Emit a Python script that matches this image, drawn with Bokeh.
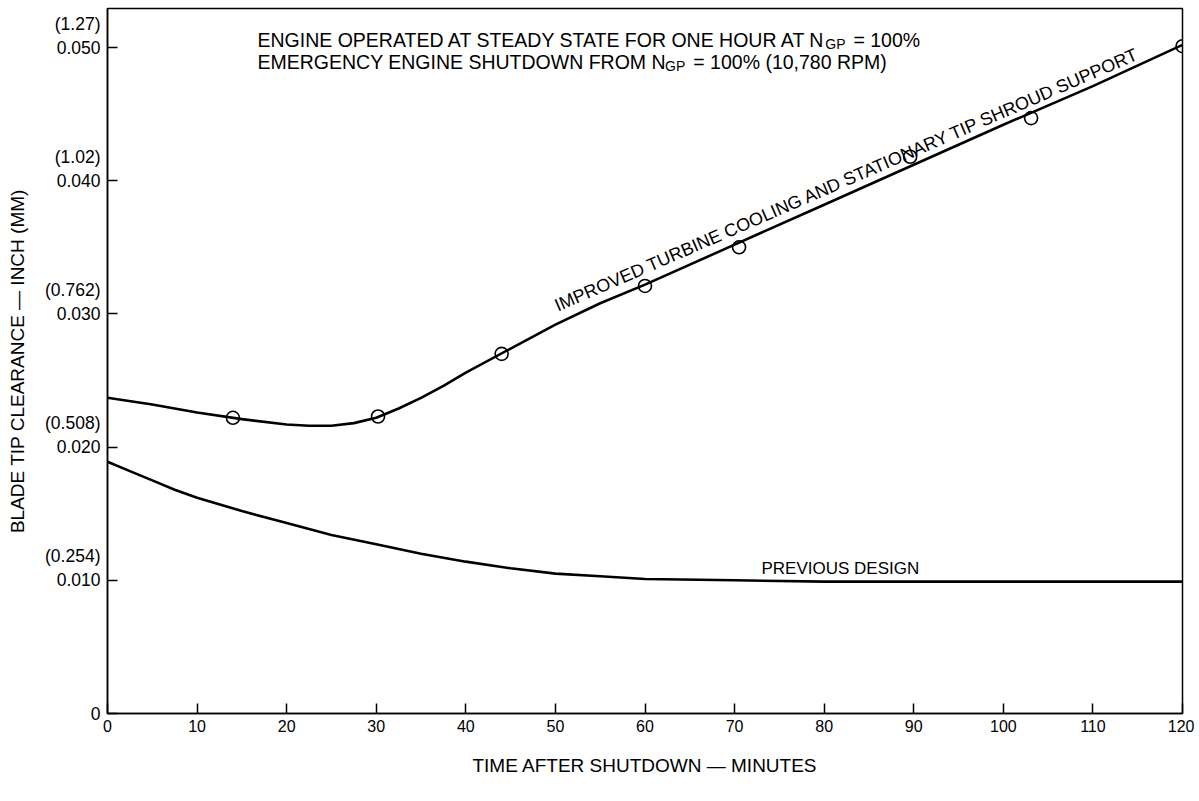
from bokeh.plotting import figure
from bokeh.models import Range1d, FixedTicker, Label
from bokeh.embed import file_html
from bokeh.resources import INLINE
from bokeh.core.properties import value

# ---------------- data ----------------
imp_time = [0, 5, 10, 15, 20, 22.5, 25, 27.5, 30, 32.5, 35, 37.5, 40, 45, 50, 55, 60,
            70, 80, 90, 100, 110, 120]
improved = [0.0237, 0.0232, 0.0226, 0.0221, 0.0217, 0.0216, 0.0216, 0.0218, 0.0222,
            0.0229, 0.0237, 0.0246, 0.0256, 0.0274, 0.0292, 0.0308, 0.0322,
            0.0352, 0.0382, 0.0412, 0.0442, 0.0471, 0.0502]
prev_time = [0, 2.5, 5, 7.5, 10, 15, 20, 25, 30, 35, 40, 45, 50, 55, 60,
             70, 80, 90, 100, 110, 120]
previous = [0.0189, 0.0182, 0.0175, 0.0168, 0.0162, 0.0152, 0.0143, 0.0134, 0.0127,
            0.0120, 0.0114, 0.0109, 0.0105, 0.0103, 0.0101,
            0.0100, 0.0099, 0.0099, 0.0099, 0.0099, 0.0099]
test_time = [14.0, 30.2, 44.0, 60.0, 70.5, 89.6, 103.1, 120.0]
test_clearance = [0.0222, 0.0223, 0.0270, 0.0321, 0.0350, 0.0418, 0.0447, 0.0501]

x_ticks = [0, 10, 20, 30, 40, 50, 60, 70, 80, 90, 100, 110, 120]
y_ticks = [0, 0.010, 0.020, 0.030, 0.040, 0.050]
y_tick_inch = ["0", "0.010", "0.020", "0.030", "0.040", "0.050"]
y_tick_mm = ["", "(0.254)", "(0.508)", "(0.762)", "(1.02)", "(1.27)"]

# ---------------- layout ----------------
FONT = "Liberation Sans"
XMAX = 120.0
YMAX = 0.05293
FW, FH = 1075, 705
LEFT, TOP = 107, 8  # frame position on the page

def xd(px):
    return (px - LEFT) * XMAX / FW

def yd(py):
    return (TOP + FH - py) * YMAX / FH

p = figure(width=1194, height=793, frame_width=FW, frame_height=FH,
           x_range=Range1d(0, XMAX), y_range=Range1d(0, YMAX),
           output_backend="svg", toolbar_location=None,
           min_border_left=LEFT, min_border_right=12, min_border_top=TOP, min_border_bottom=80)
p.background_fill_color = "white"
p.border_fill_color = "white"
p.outline_line_color = "black"
p.outline_line_width = 1.5
p.xgrid.visible = False
p.ygrid.visible = False

for ax in (p.xaxis[0], p.yaxis[0]):
    ax.axis_line_color = "black"
    ax.axis_line_width = 1.5
    ax.major_tick_in = 10
    ax.major_tick_out = 0
    ax.major_tick_line_width = 1.5
    ax.minor_tick_line_color = None
    ax.major_label_text_font = FONT
    ax.major_label_text_color = "black"
    ax.axis_label_text_font = FONT
    ax.axis_label_text_font_size = "19px"
    ax.axis_label_text_font_style = "normal"
    ax.axis_label_text_color = "black"

p.xaxis.ticker = FixedTicker(ticks=x_ticks)
p.xaxis.major_label_text_font_size = "16px"
p.xaxis.major_label_standoff = 6
p.xaxis.axis_label = "TIME AFTER SHUTDOWN \u2014 MINUTES"
p.xaxis.axis_label_standoff = 20

p.yaxis.ticker = FixedTicker(ticks=y_ticks)
p.yaxis.major_label_text_font_size = "17.5px"
p.yaxis.major_label_overrides = {
    t: (f"{mm}\n{inch}\n\u00a0" if mm else inch)
    for t, inch, mm in zip(y_ticks, y_tick_inch, y_tick_mm)
}
p.yaxis.major_label_standoff = 7
p.yaxis.axis_label = "BLADE TIP CLEARANCE \u2014 INCH (MM)"
p.yaxis.axis_label_standoff = 14

# ---------------- curves ----------------
p.line(prev_time, previous, line_color="black", line_width=2.6)
p.line(imp_time, improved, line_color="black", line_width=2.6)
p.scatter(test_time, test_clearance, marker="circle", size=13,
          fill_alpha=0, line_color="black", line_width=1.6)

# ---------------- annotations ----------------
W = {' ': 278, '.': 278, ',': 278, '%': 889, '=': 584, '(': 333, ')': 333,
     'A': 667, 'B': 667, 'C': 722, 'D': 722, 'E': 667, 'F': 611, 'G': 778, 'H': 722,
     'I': 278, 'M': 833, 'N': 722, 'O': 778, 'P': 667, 'R': 722, 'S': 667, 'T': 611,
     'U': 722, 'W': 944, 'Y': 667}

def tw(s, size, kern_em=0.0):
    return (sum(W.get(c, 556) for c in s) / 1000.0 - kern_em) * size

def note_line(pieces, px0, py_base):
    # pieces: (text, font size, baseline drop px, kerning correction em, gap after px)
    px = px0
    for s, size, drop, kern, gap in pieces:
        p.text(x=[xd(px)], y=[yd(py_base + drop)], text=[s],
               text_font=value(FONT), text_font_size=f"{size}px",
               text_color="black", text_align="left", text_baseline="alphabetic")
        px += tw(s, size, kern) + gap

note_line([("ENGINE OPERATED AT STEADY STATE FOR ONE HOUR AT N", 19.5, 0, 0.6, 3),
           ("GP", 14, 4, 0.0, 8), ("= 100%", 19.5, 0, 0.0, 0)], 257, 39)
note_line([("EMERGENCY ENGINE SHUTDOWN FROM N", 19.5, 0, 0.3, 5),
           ("GP", 14, 4, 0.0, 8), ("= 100% (10,780 RPM)", 19.5, 0, 0.0, 0)], 257, 61)

p.text(x=[xd(761)], y=[yd(568)], text=["PREVIOUS DESIGN"],
       text_font=value(FONT), text_font_size="17px", text_color="black",
       text_align="left", text_baseline="alphabetic")

p.add_layout(Label(x=83, y=0.0394, text="IMPROVED TURBINE COOLING AND STATIONARY TIP SHROUD SUPPORT",
                   angle=23.5, angle_units="deg", text_align="center", text_baseline="bottom",
                   text_font=FONT, text_font_size="18px", text_color="black"))

open("out.html", "w").write(file_html(p, INLINE))
